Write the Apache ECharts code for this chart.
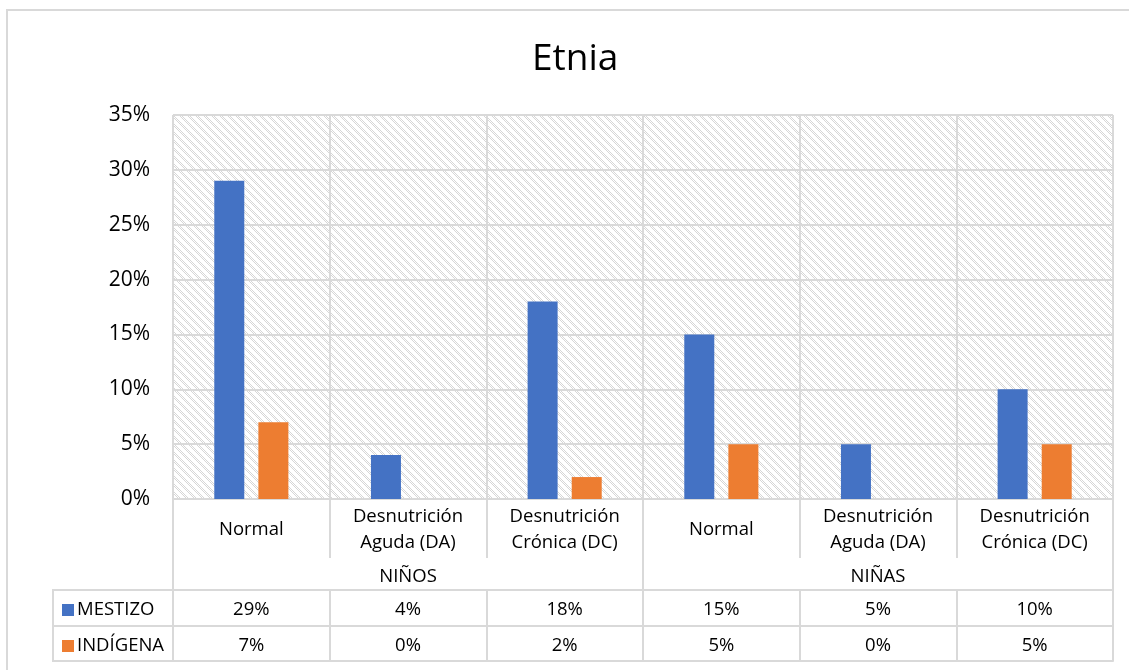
<!DOCTYPE html>
<html><head><meta charset="utf-8">
<script src="https://cdn.jsdelivr.net/npm/echarts@6/dist/echarts.min.js"></script>
<style>html,body{margin:0;padding:0;background:#fff}#c{width:1129px;height:670px}</style>
</head><body><div id="c"></div>
<script>
var titleText = 'Etnia';
var categories = ['Normal', 'Desnutrición\nAguda (DA)', 'Desnutrición\nCrónica (DC)', 'Normal', 'Desnutrición\nAguda (DA)', 'Desnutrición\nCrónica (DC)'];
var groups = ['NIÑOS', 'NIÑAS'];
var seriesNames = ['MESTIZO', 'INDÍGENA'];
var mestizo = [0.29, 0.04, 0.18, 0.15, 0.05, 0.10];
var indigena = [0.07, 0.00, 0.02, 0.05, 0.00, 0.05];
var yTicks = [0, 0.05, 0.10, 0.15, 0.20, 0.25, 0.30, 0.35];

var FONT = 'Open Sans';
var GRID = '#d9d9d9';
var FS = 18.5;
function pct(v){ return Math.round(v*100) + '%'; }

// hatch pattern tile
var tile = document.createElement('canvas');
tile.width = 8; tile.height = 8;
var tctx = tile.getContext('2d');
tctx.fillStyle = '#ffffff'; tctx.fillRect(0,0,8,8);
tctx.fillStyle = '#d6d6d6';
for (var yy=0; yy<8; yy++) for (var xx=0; xx<8; xx++) {
  var d = ((xx - yy) % 8 + 8) % 8;
  if (d < 3 && (xx + yy) % 2 === 0) tctx.fillRect(xx, yy, 1, 1);
}

var chart = echarts.init(document.getElementById('c'), null, {renderer:'canvas'});
var baseAxis = {
  type: 'category', gridIndex: 0, position: 'bottom',
  axisLine: {show: true, lineStyle: {color: GRID, width: 2}},
  axisTick: {show: false},
  splitLine: {show: false},
  axisLabel: {show: false}
};
chart.setOption({
  animation: false,
  textStyle: {fontFamily: FONT},
  title: {text: titleText, left: 527, top: 36,
    textStyle: {fontFamily: FONT, fontSize: 37, fontWeight: 'normal', color: '#000'}},
  legend: {
    orient: 'vertical', left: 62, top: 600, padding: 0,
    itemWidth: 12, itemHeight: 12, itemGap: 16, icon: 'rect',
    selectedMode: false,
    textStyle: {fontFamily: FONT, fontSize: FS, color: '#000', lineHeight: 20, padding: [0,0,0,-2]},
    data: seriesNames
  },
  grid: {left: 173, right: 16, top: 115, bottom: 171, show: true,
    backgroundColor: {image: tile, repeat: 'repeat'}, borderWidth: 0},
  yAxis: {
    type: 'value', min: 0, max: 0.35, interval: 0.05,
    axisLine: {show: false}, axisTick: {show: false},
    splitLine: {show: true, lineStyle: {color: GRID, width: 2}},
    axisLabel: {formatter: function(v){ return pct(v); }, fontSize: 21, color: '#000', margin: 23, fontFamily: FONT}
  },
  xAxis: [
    Object.assign({}, baseAxis, {
      data: categories,
      axisTick: {show: true, length: 59, lineStyle: {color: GRID, width: 2}},
      splitLine: {show: true, lineStyle: {color: GRID, width: 2}},
      axisLabel: {show: true, fontSize: FS, lineHeight: 26, color: '#000', verticalAlign: 'middle', margin: 31, fontFamily: FONT, interval: 0}
    }),
    Object.assign({}, baseAxis, {
      data: groups,
      axisTick: {show: true, length: 91, lineStyle: {color: GRID, width: 2}},
      axisLabel: {show: true, fontSize: FS, color: '#000', verticalAlign: 'middle', margin: 78, fontFamily: FONT, interval: 0}
    }),
    Object.assign({}, baseAxis, {
      data: categories, offset: 91,
      axisTick: {show: true, length: 36, lineStyle: {color: GRID, width: 2}},
      axisLabel: {show: true, fontSize: FS, color: '#000', verticalAlign: 'middle', margin: 20, fontFamily: FONT, interval: 0,
        formatter: function(v, i){ return pct(mestizo[i]); }}
    }),
    Object.assign({}, baseAxis, {
      data: categories, offset: 127,
      axisTick: {show: true, length: 35, lineStyle: {color: GRID, width: 2}},
      axisLabel: {show: true, fontSize: FS, color: '#000', verticalAlign: 'middle', margin: 20, fontFamily: FONT, interval: 0,
        formatter: function(v, i){ return pct(indigena[i]); }}
    }),
    Object.assign({}, baseAxis, {data: categories, offset: 162})
  ],
  graphic: [
    {type: 'rect', shape: {x: 7, y: 10, width: 1140, height: 690}, style: {fill: 'none', stroke: GRID, lineWidth: 2}, silent: true},
    {type: 'line', shape: {x1: 53, y1: 590, x2: 173, y2: 590}, style: {stroke: GRID, lineWidth: 2}, silent: true},
    {type: 'line', shape: {x1: 53, y1: 626, x2: 173, y2: 626}, style: {stroke: GRID, lineWidth: 2}, silent: true},
    {type: 'line', shape: {x1: 53, y1: 661, x2: 173, y2: 661}, style: {stroke: GRID, lineWidth: 2}, silent: true},
    {type: 'line', shape: {x1: 53, y1: 589, x2: 53, y2: 662}, style: {stroke: GRID, lineWidth: 2}, silent: true}
  ],
  series: [
    {name: seriesNames[0], type: 'bar', xAxisIndex: 0, data: mestizo, barWidth: 30, barGap: '47%', itemStyle: {color: '#4472C4'}},
    {name: seriesNames[1], type: 'bar', xAxisIndex: 0, data: indigena, barWidth: 30, barGap: '47%', itemStyle: {color: '#ED7D31'}}
  ]
});
</script></body></html>
